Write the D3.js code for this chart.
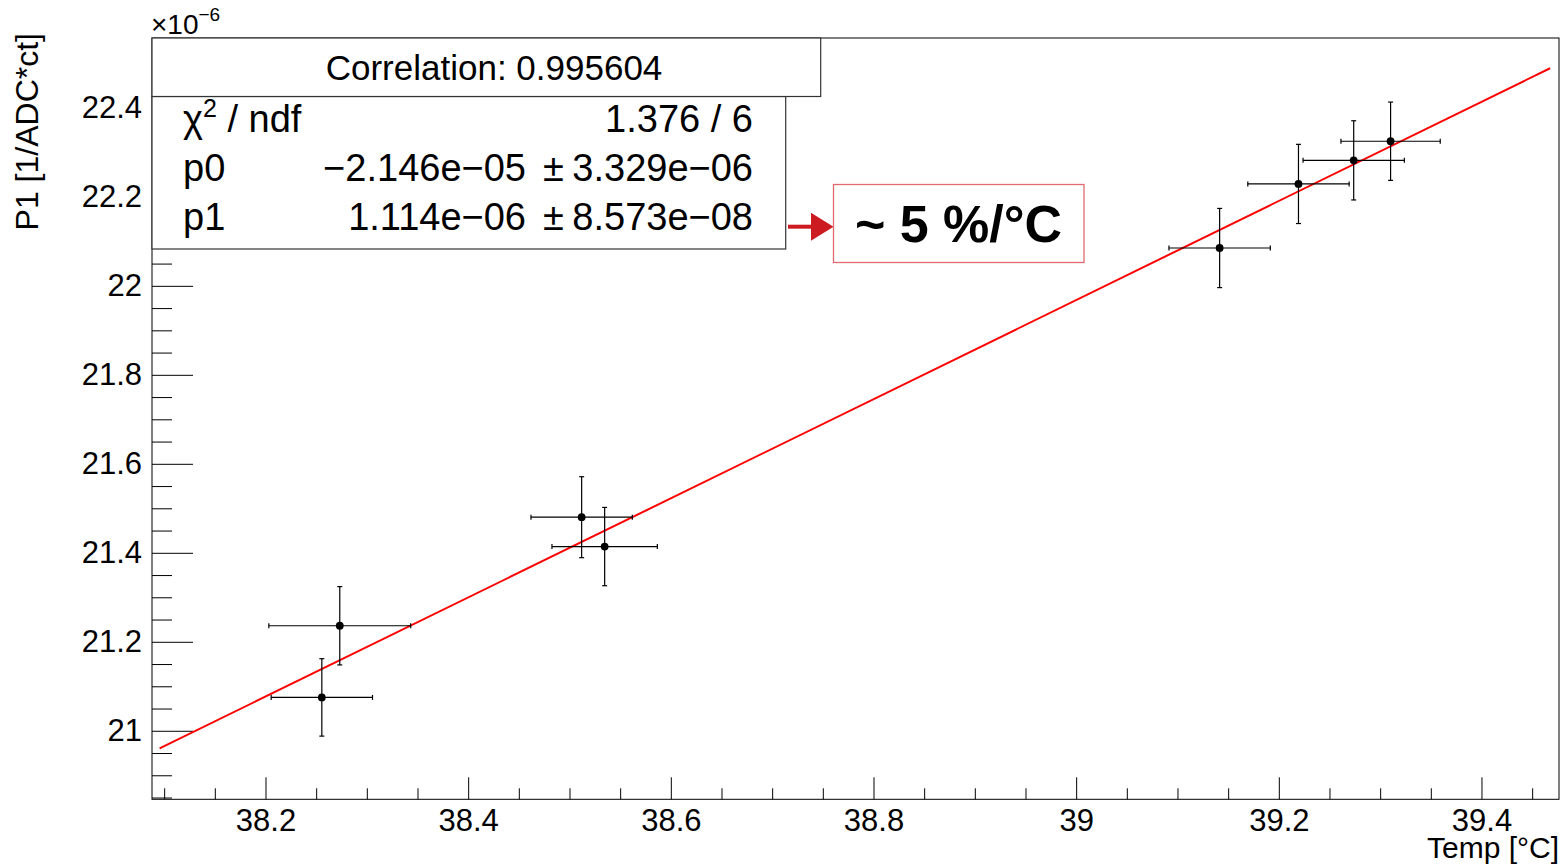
<!DOCTYPE html>
<html>
<head>
<meta charset="utf-8">
<script src="https://cdn.jsdelivr.net/npm/d3@7"></script>
<style>
  body { margin: 0; background: #fff; }
  text { font-family: "Liberation Sans", Arial, Helvetica, sans-serif; fill: #000; }
</style>
</head>
<body>
<svg class="chart"></svg>
<script>
var width = 1566,
    height = 866;

// measured points (P1 in units of 1e-6)
var temp    = [38.2556, 38.2733, 38.512, 38.5347, 39.1416, 39.2194, 39.2739, 39.3103];
var tempErr = [0.050, 0.070, 0.050, 0.052, 0.050, 0.050, 0.050, 0.049];
var p1      = [21.075, 21.236, 21.480, 21.414, 22.085, 22.229, 22.282, 22.325];
var p1Err   = [0.087, 0.088, 0.091, 0.088, 0.089, 0.089, 0.089, 0.088];

// fit pol1 (drawn with the values)
var fitRange = [38.0955, 39.4677];
var fitP0 = -21.478, fitP1 = 1.114;

var xTicks = [38.2, 38.4, 38.6, 38.8, 39, 39.2, 39.4];
var xTickLabels = ["38.2", "38.4", "38.6", "38.8", "39", "39.2", "39.4"];
var yTicks = [21, 21.2, 21.4, 21.6, 21.8, 22, 22.2, 22.4];
var yTickLabels = ["21", "21.2", "21.4", "21.6", "21.8", "22", "22.2", "22.4"];

var statsLabels = ["χ", "p0", "p1"];
var chi2Text = "1.376 / 6";
var parValues = ["−2.146e−05", "1.114e−06"];
var parErrors = ["3.329e−06", "8.573e−08"];
var correlationText = "Correlation: 0.995604";
var slopeText = "~ 5 %/°C";

var frameL = 152, frameR = 1559, frameT = 38, frameB = 799.3;

var x = d3.scaleLinear()
    .domain([38.088, 39.4765])
    .range([frameL, frameR]);

var y = d3.scaleLinear()
    .domain([20.846, 22.557])
    .range([frameB, frameT]);

var chart = d3.select(".chart")
    .attr("width", width)
    .attr("height", height);

chart.append("rect")
    .attr("width", width).attr("height", height).attr("fill", "#fff");

// frame
chart.append("rect")
    .attr("x", frameL).attr("y", frameT)
    .attr("width", frameR - frameL).attr("height", frameB - frameT)
    .attr("fill", "none").attr("stroke", "#000").attr("stroke-width", 1);

// minor ticks every 0.05
var xMinor = d3.range(38.1, 39.476, 0.05).filter(function(v) { return Math.abs(v * 5 - Math.round(v * 5)) > 1e-6; });
var yMinor = d3.range(20.85, 22.556, 0.05).filter(function(v) { return Math.abs(v * 5 - Math.round(v * 5)) > 1e-6; });

chart.append("g")
    .attr("transform", "translate(0," + frameB + ")")
    .call(d3.axisBottom(x).tickValues(xMinor).tickSizeInner(-11).tickSizeOuter(0).tickFormat(""))
    .call(function(g) { g.select(".domain").remove(); });

var xAxis = chart.append("g")
    .attr("transform", "translate(0," + frameB + ")")
    .call(d3.axisBottom(x).tickValues(xTicks).tickSizeInner(-22).tickSizeOuter(0).tickPadding(10)
      .tickFormat(function(d, i) { return xTickLabels[i]; }));
xAxis.select(".domain").remove();
xAxis.selectAll("text").attr("font-size", 31);
xAxis.attr("font-family", null);

chart.append("g")
    .attr("transform", "translate(" + frameL + ",0)")
    .call(d3.axisLeft(y).tickValues(yMinor).tickSizeInner(-20).tickSizeOuter(0).tickFormat(""))
    .call(function(g) { g.select(".domain").remove(); });

var yAxis = chart.append("g")
    .attr("transform", "translate(" + frameL + ",0)")
    .call(d3.axisLeft(y).tickValues(yTicks).tickSizeInner(-41).tickSizeOuter(0).tickPadding(10)
      .tickFormat(function(d, i) { return yTickLabels[i]; }));
yAxis.select(".domain").remove();
yAxis.selectAll("text").attr("font-size", 31);
yAxis.attr("font-family", null);

chart.selectAll(".tick line").attr("stroke", "#000");

// multiplier
var mult = chart.append("text").attr("x", 151).attr("y", 34).attr("font-size", 28);
mult.append("tspan").text("×10");
mult.append("tspan").attr("dy", -13).attr("font-size", 19).text("−6");

// axis titles
chart.append("text")
    .attr("transform", "translate(38,33) rotate(-90)")
    .attr("text-anchor", "end")
    .attr("font-size", 32)
    .text("P1 [1/ADC*ct]");

chart.append("text")
    .attr("x", frameR).attr("y", 858)
    .attr("text-anchor", "end")
    .attr("font-size", 30)
    .text("Temp [°C]");

// fit line
var fitLine = d3.line()
    .x(function(d) { return x(d); })
    .y(function(d) { return y(fitP0 + fitP1 * d); });

chart.append("path")
    .datum(fitRange)
    .attr("d", fitLine)
    .attr("fill", "none")
    .attr("stroke", "#ff0000")
    .attr("stroke-width", 2);

// points with error bars
var pts = chart.selectAll("g.pt")
    .data(temp)
  .enter().append("g")
    .attr("class", "pt");

pts.append("line")
    .attr("x1", function(d, i) { return x(d - tempErr[i]); })
    .attr("x2", function(d, i) { return x(d + tempErr[i]); })
    .attr("y1", function(d, i) { return y(p1[i]); })
    .attr("y2", function(d, i) { return y(p1[i]); });
pts.append("line")
    .attr("x1", function(d) { return x(d); })
    .attr("x2", function(d) { return x(d); })
    .attr("y1", function(d, i) { return y(p1[i] - p1Err[i]); })
    .attr("y2", function(d, i) { return y(p1[i] + p1Err[i]); });
// end caps
[-1, 1].forEach(function(s) {
  pts.append("line")
      .attr("x1", function(d, i) { return x(d + s * tempErr[i]); })
      .attr("x2", function(d, i) { return x(d + s * tempErr[i]); })
      .attr("y1", function(d, i) { return y(p1[i]) - 2.5; })
      .attr("y2", function(d, i) { return y(p1[i]) + 2.5; });
  pts.append("line")
      .attr("x1", function(d) { return x(d) - 2.5; })
      .attr("x2", function(d) { return x(d) + 2.5; })
      .attr("y1", function(d, i) { return y(p1[i] + s * p1Err[i]); })
      .attr("y2", function(d, i) { return y(p1[i] + s * p1Err[i]); });
});
pts.selectAll("line").attr("stroke", "#000").attr("stroke-width", 1.2);

pts.append("circle")
    .attr("cx", function(d) { return x(d); })
    .attr("cy", function(d, i) { return y(p1[i]); })
    .attr("r", 3.9)
    .attr("fill", "#000");

// stats boxes
chart.append("rect")
    .attr("x", frameL).attr("y", 96.5)
    .attr("width", 785.7 - frameL).attr("height", 249 - 96.5)
    .attr("fill", "#fff").attr("stroke", "#333").attr("stroke-width", 1.2);

chart.append("rect")
    .attr("x", frameL).attr("y", frameT)
    .attr("width", 820.7 - frameL).attr("height", 96.5 - frameT)
    .attr("fill", "#fff").attr("stroke", "#333").attr("stroke-width", 1.2);

chart.append("text")
    .attr("x", 494).attr("y", 80)
    .attr("text-anchor", "middle")
    .attr("font-size", 35)
    .text(correlationText);

var rowY = [132, 181, 230];
statsLabels.forEach(function(s, i) {
  var t = chart.append("text")
      .attr("x", 183).attr("y", rowY[i])
      .attr("font-size", 38)
      .text(s);
  if (i == 0) {
    t.append("tspan").attr("dy", -15).attr("font-size", 25).text("2");
    t.append("tspan").attr("dy", 15).text(" / ndf");
  }
});

chart.append("text")
    .attr("x", 753).attr("y", rowY[0])
    .attr("text-anchor", "end")
    .attr("font-size", 38)
    .text(chi2Text);

parValues.forEach(function(v, i) {
  var ry = rowY[i + 1];
  chart.append("text")
      .attr("x", 526).attr("y", ry)
      .attr("text-anchor", "end")
      .attr("font-size", 38)
      .text(v);
  chart.append("text")
      .attr("x", 553.5).attr("y", ry)
      .attr("text-anchor", "middle")
      .attr("font-size", 38)
      .text("±");
  chart.append("text")
      .attr("x", 753).attr("y", ry)
      .attr("text-anchor", "end")
      .attr("font-size", 38)
      .text(parErrors[i]);
});

// annotation
chart.append("line")
    .attr("x1", 788).attr("x2", 813)
    .attr("y1", 226.7).attr("y2", 226.7)
    .attr("stroke", "#cc1c22").attr("stroke-width", 4);
chart.append("path")
    .attr("d", "M811,212.7L833.5,226.7L811,240.7Z")
    .attr("fill", "#cc1c22");

chart.append("rect")
    .attr("x", 833.5).attr("y", 184.5)
    .attr("width", 250.5).attr("height", 78)
    .attr("fill", "#fff").attr("stroke", "#e06a6e").attr("stroke-width", 1.3);

chart.append("text")
    .attr("x", 958.5).attr("y", 242)
    .attr("text-anchor", "middle")
    .attr("font-size", 52)
    .attr("font-weight", "bold")
    .text(slopeText);
</script>
</body>
</html>
